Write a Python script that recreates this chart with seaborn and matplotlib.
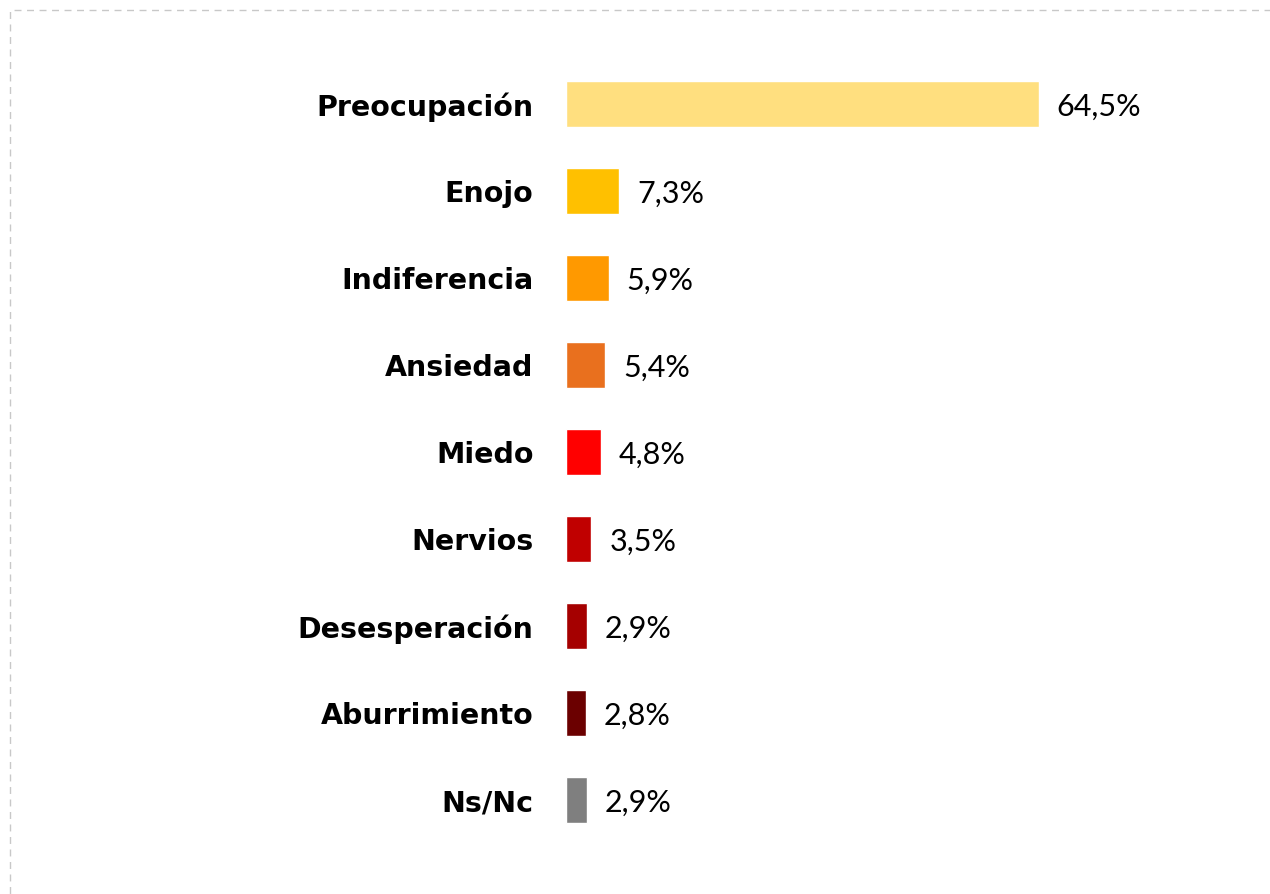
import matplotlib
matplotlib.use("Agg")
import matplotlib.pyplot as plt
import seaborn as sns
import pandas as pd
from matplotlib.patches import Rectangle

categories = ["Preocupación", "Enojo", "Indiferencia", "Ansiedad", "Miedo",
              "Nervios", "Desesperación", "Aburrimiento", "Ns/Nc"]
values = [64.5, 7.3, 5.9, 5.4, 4.8, 3.5, 2.9, 2.8, 2.9]
colors = ["#FFDF7F", "#FFC000", "#FF9900", "#E9701E", "#FF0000",
          "#C00000", "#A50000", "#6B0000", "#7F7F7F"]
value_labels = ["64,5%", "7,3%", "5,9%", "5,4%", "4,8%", "3,5%", "2,9%", "2,8%", "2,9%"]

df = pd.DataFrame({"cat": categories, "val": values})

sns.set_theme(style="white")
plt.rcParams['font.family'] = ['DejaVu Sans']

W, H = 1270, 894
fig = plt.figure(figsize=(W / 100, H / 100), dpi=100)
fig.patch.set_facecolor("white")

# dashed border (top and left visible)
fig.patches.append(Rectangle((10 / W, -0.05), 1.2, 1 - 10 / H + 0.05,
                             transform=fig.transFigure, fill=False,
                             edgecolor="#C8C8C8", linewidth=1.0,
                             linestyle=(0, (5, 4)), zorder=0))

ax = fig.add_axes([565.5 / W, 1 - 843.5 / H, 660 / W, 783 / H])
sns.barplot(data=df, x="val", y="cat", hue="cat", palette=colors,
            order=categories, hue_order=categories, orient="h",
            width=0.53, legend=False, ax=ax, saturation=1)
ax.set_xlim(0, 90)
ax.set_ylim(8.5, -0.5)
ax.set_xlabel("")
ax.set_ylabel("")
ax.set_xticks([])
for s in ax.spines.values():
    s.set_visible(False)
ax.tick_params(axis="y", length=0, pad=23)
for lbl in ax.get_yticklabels():
    lbl.set_fontweight("bold")
    lbl.set_fontsize(20.5)
    lbl.set_color("black")

for i, (v, t) in enumerate(zip(values, value_labels)):
    ax.annotate(t, xy=(v, i), xytext=(13, -2), textcoords="offset points",
                va="center", ha="left", fontsize=22, color="black",
                family=["Lato", "DejaVu Sans"], fontweight="normal")

fig.savefig("out.png", dpi=100)
